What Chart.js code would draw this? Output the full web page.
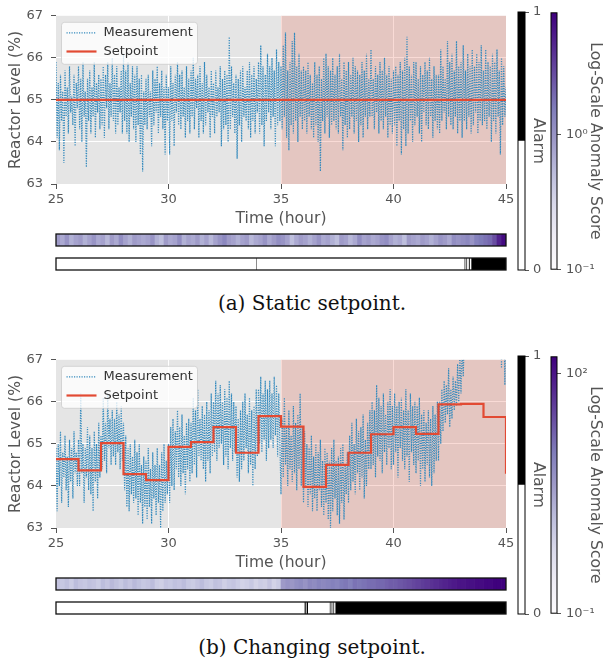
<!DOCTYPE html>
<html><head><meta charset="utf-8">
<script src="https://cdn.jsdelivr.net/npm/chart.js@4.4.0/dist/chart.umd.min.js"></script>
<style>
html,body{margin:0;padding:0;background:#fff;width:603px;height:662px;overflow:hidden;position:relative;}
canvas{position:absolute;}
.caption{position:absolute;left:0;width:624px;text-align:center;font-family:"DejaVu Serif",serif;font-size:20px;line-height:22px;color:#111;}
</style></head><body>
<script>
// ---------------- DATA ----------------
const timeStart = 25, timeEnd = 45, faultStart = 35, sampleStepHours = 0.05;
const xTicks = [25, 30, 35, 40, 45];
const yTicks = [63, 64, 65, 66, 67];

// (a) static setpoint: measurement every 0.05 h from 25 to 45 (one row = half an hour)
const measurementStatic = [
65.9,64.1,65.4,63.8,65.6,64.5,65.2,63.5,65.7,64.6,
65.3,64.2,65.8,64.7,65.1,64.4,65.6,63.9,65.4,64.8,
65.8,64.3,65.5,64.0,65.9,64.6,65.2,63.4,65.5,64.5,
65.7,64.2,65.3,64.6,65.9,64.1,65.4,64.7,65.6,64.3,
65.5,64.4,65.8,64.1,65.6,64.8,65.9,64.3,65.4,64.6,
66.0,64.5,65.6,64.2,65.8,64.4,65.3,64.7,65.7,64.2,
66.1,64.5,65.7,64.2,65.9,64.0,65.4,64.6,65.8,64.3,
65.6,64.0,65.8,64.4,65.5,63.7,65.6,63.3,65.2,64.4,
65.5,64.3,65.6,64.6,65.2,63.9,65.7,64.4,65.5,64.7,
65.8,64.2,65.4,64.6,65.7,64.3,65.3,63.7,65.6,64.5,
65.3,63.7,65.8,64.5,65.4,63.9,65.6,64.7,65.9,64.4,
65.6,64.3,65.7,64.6,65.3,64.1,65.8,64.5,65.5,64.2,
65.7,64.6,66.0,64.3,65.5,64.8,65.6,64.1,65.8,64.5,
65.4,64.2,65.9,64.4,65.6,64.7,65.3,64.1,65.7,64.6,
65.4,64.2,65.7,64.6,65.3,64.7,65.8,63.9,65.5,64.3,
65.7,64.4,65.6,64.0,66.5,64.3,65.8,64.6,65.4,64.2,
65.6,63.6,65.5,64.4,65.7,64.0,65.8,64.6,65.3,64.5,
65.7,64.3,65.9,64.1,65.6,64.5,65.8,64.2,65.5,64.7,
65.9,64.2,66.3,64.4,65.8,63.9,65.6,64.5,66.1,64.7,
65.8,64.3,66.0,64.6,65.7,63.9,66.2,64.4,65.9,64.5,
65.8,64.3,66.3,64.6,66.6,64.1,65.7,63.8,65.9,64.4,
66.4,64.2,66.6,64.5,65.8,64.0,66.1,64.6,65.7,64.3,
65.8,64.5,65.7,64.2,65.9,64.6,65.6,64.3,65.4,64.1,
65.9,64.4,65.6,64.0,65.8,63.3,65.5,64.5,66.0,64.2,
66.1,64.6,65.8,64.1,65.7,64.4,66.0,64.5,65.6,64.3,
65.8,64.2,66.1,64.6,65.5,63.8,65.9,64.4,65.7,64.1,
65.9,64.3,65.6,64.6,66.0,64.2,65.8,64.5,65.7,64.0,
65.6,64.4,65.9,64.1,65.7,64.6,66.1,64.3,65.5,64.6,
66.2,64.6,65.5,64.3,65.8,64.7,65.6,64.2,65.9,64.5,
65.7,64.3,66.0,64.6,65.6,64.1,65.8,64.4,65.5,64.2,
65.7,64.4,65.8,63.9,65.6,64.5,65.9,63.7,65.7,64.3,
66.0,63.9,66.5,64.2,65.8,64.5,65.6,64.0,65.9,64.4,
65.9,64.6,65.5,64.2,65.8,64.0,65.6,64.7,65.9,64.4,
65.7,64.3,66.0,64.6,65.5,64.1,65.8,64.5,65.6,64.3,
65.6,64.2,66.2,64.5,65.8,64.7,65.5,64.3,66.4,64.6,
65.9,64.4,66.1,64.3,65.7,64.6,66.4,64.2,65.8,64.5,
65.9,64.1,66.3,64.5,65.7,64.3,66.1,64.6,65.8,64.2,
66.2,64.4,65.8,64.7,66.1,64.2,65.9,64.5,66.3,64.4,
65.7,64.5,66.2,64.3,65.9,64.6,65.8,64.0,66.1,64.5,
65.9,64.2,66.2,64.6,65.7,63.7,66.0,64.4,65.8,64.6,
65.3];
const setpointStaticTimes = [25, 45];
const setpointStaticValues = [65.0, 65.0];

// (b) changing setpoint
const measurementChanging = [
64.9,63.4,65.0,64.0,65.3,63.6,64.8,64.2,65.2,63.9,
64.7,63.5,65.1,64.1,64.9,63.7,65.3,64.3,64.8,64.0,
65.1,64.0,66.2,64.3,65.0,63.6,64.9,64.2,65.4,63.9,
65.2,63.8,64.9,63.4,65.3,64.1,65.0,63.7,65.5,64.2,
65.2,64.4,66.1,64.6,65.5,64.3,66.2,64.9,65.6,64.5,
65.8,64.7,65.6,64.5,66.0,64.8,65.7,64.4,65.9,64.6,
65.5,63.9,65.2,63.5,64.9,63.4,65.0,63.8,64.7,63.6,
65.1,63.7,64.8,63.3,65.0,63.6,64.5,63.1,64.7,63.5,
64.6,63.2,64.9,63.5,64.4,63.1,64.8,63.7,64.5,63.3,
64.9,63.6,64.5,63.0,64.8,63.4,65.0,63.6,64.6,63.8,
65.0,63.6,65.4,64.0,65.6,63.9,65.3,64.4,65.8,64.2,
65.4,64.0,65.7,64.3,65.2,63.8,65.5,64.4,65.6,64.1,
65.5,64.3,66.1,64.5,65.8,64.2,66.3,64.7,65.6,64.6,
65.9,64.4,65.7,64.1,66.0,64.6,65.8,64.3,66.2,64.7,
66.0,64.8,66.5,64.6,66.2,64.9,66.4,65.0,66.0,64.5,
66.3,64.7,66.1,64.4,66.5,64.9,66.2,64.6,66.0,64.8,
65.9,64.2,65.6,64.1,65.8,64.4,66.0,64.6,66.2,64.9,
65.7,64.3,66.1,64.5,65.8,64.0,65.9,64.4,66.3,64.7,
66.3,65.0,66.6,64.8,66.2,65.1,66.5,64.6,66.3,64.9,
66.5,65.1,66.2,64.9,66.6,65.2,66.4,64.7,66.2,65.0,
63.8,65.6,64.2,66.1,64.5,65.4,64.0,65.8,64.4,65.2,
64.1,65.9,64.3,65.5,63.9,65.7,64.4,66.2,64.0,65.4,
63.6,65.3,64.0,65.0,63.5,64.9,63.8,65.2,63.4,64.7,
63.7,65.0,63.4,64.8,63.9,65.1,63.5,64.6,63.3,64.9,
63.6,64.8,63.2,64.6,63.0,64.9,63.4,65.1,63.7,64.6,
63.3,64.7,63.1,64.9,63.6,65.0,63.2,64.5,63.8,64.8,
63.6,65.2,63.9,65.5,64.1,65.0,63.8,65.6,64.3,65.3,
63.9,65.4,64.2,65.7,63.7,65.1,64.0,65.5,64.4,65.8,
64.4,66.0,64.5,65.8,64.2,66.4,64.7,66.1,64.6,65.9,
64.3,66.2,64.8,65.7,64.5,66.0,64.9,66.3,64.4,65.9,
64.5,66.2,64.8,65.9,64.2,66.0,64.9,66.1,64.6,65.8,
64.4,66.3,64.7,65.8,64.1,66.2,64.8,65.9,64.5,66.0,
64.3,65.9,64.6,66.1,64.0,65.7,64.4,65.8,64.1,65.5,
64.5,65.8,64.2,65.6,64.0,65.9,64.3,65.7,64.6,66.0,
64.6,66.0,65.0,66.3,65.3,66.5,65.5,66.4,65.7,66.8,
65.4,66.3,65.6,66.6,65.8,66.5,65.9,66.9,66.0,67.1,
66.2,67.3,66.6,67.6,67.2,68.0,67.5,68.3,67.8,68.6,
68.0,68.7,68.2,68.9,68.4,69.0,68.6,69.2,68.8,69.1,
68.7,69.3,68.9,69.4,69.0,69.2,68.8,69.5,69.1,69.3,
69.0,69.4,68.9,69.2,69.1,69.5,66.8,69.3,68.9,66.4,
69.0];
const setpointChangingTimes = [25,26,27,28,29,30,31,32,33,34,35,36,37,38,39,40,41,42,43,44,45];
const setpointChangingValues = [64.64,64.37,65.02,64.28,64.14,64.93,65.04,65.40,64.79,65.66,
                                65.41,63.98,64.50,64.79,65.23,65.40,65.24,65.94,65.95,65.64,64.29];

// anomaly scores (log10), one per 0.2 h bin
const anomalyBinHours = 0.2;
const anomalyLog10Static = [
-0.05,-0.15,0.0,-0.2,-0.1,-0.05,-0.2,-0.1,0.0,-0.15,
-0.1,-0.25,-0.05,-0.15,0.05,-0.1,-0.2,-0.05,-0.1,-0.15,
-0.1,0.0,-0.2,-0.3,-0.05,-0.15,-0.1,0.05,-0.2,-0.1,
-0.15,-0.05,-0.2,-0.1,-0.25,-0.1,0.0,0.1,-0.05,-0.1,
-0.2,-0.1,-0.05,-0.25,-0.15,-0.1,0.0,-0.15,-0.05,0.05,
0.0,-0.1,-0.3,-0.15,-0.05,-0.1,-0.2,-0.1,0.0,-0.15,
-0.1,-0.2,-0.3,-0.05,-0.1,-0.25,-0.15,0.05,-0.1,-0.05,
-0.15,-0.1,0.0,0.05,-0.1,-0.2,-0.15,-0.3,-0.05,-0.1,
-0.15,-0.05,-0.1,-0.2,-0.1,0.0,-0.05,-0.15,0.05,0.0,
0.05,0.1,0.0,0.15,0.2,0.25,0.3,0.45,0.7,0.85];
const anomalyLog10Changing = [
0.1,0.05,0.15,0.0,0.2,0.1,0.05,0.15,0.1,0.0,
0.2,0.1,0.25,0.15,0.05,0.2,0.1,0.25,0.15,0.05,
0.1,0.2,0.0,-0.05,0.1,0.05,0.15,0.1,0.2,0.05,
0.0,0.1,0.2,0.05,0.0,0.15,0.1,-0.05,0.05,0.1,
0.0,-0.1,-0.05,0.05,-0.1,0.0,-0.05,0.1,-0.1,0.0,
0.6,0.7,0.65,0.75,0.8,0.7,0.85,0.8,0.9,0.85,
0.9,0.95,0.9,1.0,1.05,0.95,1.1,1.05,1.1,1.15,
1.15,1.2,1.2,1.25,1.3,1.3,1.35,1.4,1.45,1.5,
1.55,1.6,1.65,1.7,1.75,1.8,1.85,1.9,1.95,2.0,
2.0,2.05,2.05,2.1,2.1,2.15,2.15,2.2,2.2,2.2];
const anomalyRangeStatic = [0.1, 8.1];
const anomalyRangeChanging = [0.1, 162];
const anomalyTicksStatic = [0.1, 1];
const anomalyTicksChanging = [0.1, 100];

// alarm intervals (hours)
const alarmIntervalsStatic = [[33.90,33.92],[43.16,43.19],[43.24,43.27],[43.35,43.39],[43.46,45]];
const alarmIntervalsChanging = [[36.05,36.1],[36.14,36.2],[37.17,37.2],[37.25,37.28],[37.33,37.36],[37.42,45]];
const alarmLevels = [[0, 0.5], [0.5, 1]];
const alarmTicks = [0, 1];

const captions = ['(a) Static setpoint.', '(b) Changing setpoint.'];

// ---------------- HELPERS ----------------
const PURPLES = ['#fcfbfd','#efedf5','#dadaeb','#bcbddc','#9e9ac8','#807dba','#6a51a3','#54278f','#3f007d'];
function hexToRgb(h){return [parseInt(h.slice(1,3),16),parseInt(h.slice(3,5),16),parseInt(h.slice(5,7),16)];}
function purples(t){
  t = Math.max(0, Math.min(1, t));
  const n = PURPLES.length - 1, f = t * n, i = Math.min(n - 1, Math.floor(f)), u = f - i;
  const a = hexToRgb(PURPLES[i]), b = hexToRgb(PURPLES[i + 1]);
  return 'rgb(' + a.map((v, k) => Math.round(v + (b[k] - v) * u)).join(',') + ')';
}
const SUP = {'-':'⁻','0':'⁰','1':'¹','2':'²','3':'³'};
function powLabel(v){ const e = Math.round(Math.log10(v)); return '10' + String(e).split('').map(c => SUP[c]).join(''); }

function makeCanvas(left, top, w, h){
  const c = document.createElement('canvas');
  c.width = w; c.height = h;
  c.style.left = left + 'px'; c.style.top = top + 'px';
  c.style.width = w + 'px'; c.style.height = h + 'px';
  document.body.appendChild(c);
  return c;
}
const FONT = 'DejaVu Sans';
const GRAY = '#555555';
Chart.defaults.font.family = FONT;
Chart.defaults.color = GRAY;

const framePlugin = {id:'frame', afterDatasetsDraw(chart, args, opts){
  const a = chart.chartArea, c = chart.ctx;
  c.save(); c.strokeStyle = opts.color || '#000'; c.lineWidth = opts.width || 1;
  c.strokeRect(a.left, a.top, a.right - a.left, a.bottom - a.top); c.restore();
}};
const regionPlugin = {id:'regions',
  beforeDraw(chart){
    const {ctx, chartArea:a} = chart;
    ctx.save(); ctx.fillStyle = '#E5E5E5'; ctx.fillRect(a.left, a.top, a.width, a.height); ctx.restore();
  },
  beforeDatasetsDraw(chart){
    const {ctx, chartArea:a, scales:{x}} = chart;
    const x0 = x.getPixelForValue(faultStart), x1 = x.getPixelForValue(timeEnd);
    ctx.save(); ctx.fillStyle = 'rgba(226,74,51,0.2)'; ctx.fillRect(x0, a.top, x1 - x0, a.height); ctx.restore();
  }};
const boxLegend = {id:'boxLegend', afterDraw(chart){
  const {ctx, chartArea:a} = chart;
  const x = a.left + 5.5, y = a.top + 6.5, w = 136, h = 42, r = 3;
  ctx.save();
  ctx.beginPath();
  ctx.moveTo(x + r, y); ctx.lineTo(x + w - r, y); ctx.arcTo(x + w, y, x + w, y + r, r);
  ctx.lineTo(x + w, y + h - r); ctx.arcTo(x + w, y + h, x + w - r, y + h, r);
  ctx.lineTo(x + r, y + h); ctx.arcTo(x, y + h, x, y + h - r, r);
  ctx.lineTo(x, y + r); ctx.arcTo(x, y, x + r, y, r); ctx.closePath();
  ctx.fillStyle = 'rgba(255,255,255,0.8)'; ctx.fill();
  ctx.strokeStyle = 'rgba(204,204,204,0.8)'; ctx.lineWidth = 1; ctx.stroke();
  ctx.font = '13px "' + FONT + '"'; ctx.textBaseline = 'middle'; ctx.textAlign = 'left';
  chart.data.datasets.forEach((ds, i) => {
    const yy = y + 10.5 + i * 18.7;
    ctx.strokeStyle = ds.borderColor; ctx.lineWidth = ds.borderWidth;
    ctx.setLineDash(ds.borderDash || []);
    ctx.beginPath(); ctx.moveTo(x + 5, yy); ctx.lineTo(x + 35, yy); ctx.stroke();
    ctx.setLineDash([]);
    ctx.fillStyle = '#333'; ctx.fillText(ds.label, x + 42, yy);
  });
  ctx.restore();
}};

const base = {animation:false, responsive:false, devicePixelRatio:1,
  plugins:{legend:{display:false}, tooltip:{enabled:false}}};

function edgeless(ctx){ const v = ctx.tick && ctx.tick.value; return (v === 25 || v === 45 || v === 63 || v === 67) ? 'rgba(0,0,0,0)' : '#ffffff'; }

function mainChart(top, meas, spT, spV){
  const cv = makeCanvas(0, top, 520, 232);
  new Chart(cv, {
    type:'line',
    data:{datasets:[
      {label:'Measurement', data: meas.map((v, i) => ({x: timeStart + i * sampleStepHours, y: v})),
       borderColor:'#348ABD', borderWidth:1.2, borderDash:[1.2,1.3], pointRadius:0, tension:0, order:2},
      {label:'Setpoint', data: spT.map((t, i) => ({x: t, y: spV[i]})),
       borderColor:'#E24A33', borderWidth:2.2, stepped:true, pointRadius:0, order:1}
    ]},
    options:Object.assign({}, base, {
      layout:{padding:{top:12, right:14, left:0, bottom:0}},
      scales:{
        x:{type:'linear', min:timeStart, max:timeEnd,
           afterBuildTicks: s => { s.ticks = xTicks.map(v => ({value:v})); },
           afterFit: s => { s.height = 48; },
           grid:{color:edgeless, lineWidth:1, tickColor:GRAY, tickLength:5},
           border:{display:false},
           ticks:{color:GRAY, font:{size:13}, padding:3, maxRotation:0},
           title:{display:true, text:'Time (hour)', color:GRAY, font:{size:15.6}, padding:{top:4, bottom:4}}},
        y:{min:63, max:67,
           afterBuildTicks: s => { s.ticks = yTicks.map(v => ({value:v})); },
           afterFit: s => { s.width = 56; },
           grid:{color:edgeless, lineWidth:1, tickColor:GRAY, tickLength:5},
           border:{display:false},
           ticks:{color:GRAY, font:{size:13}, padding:8},
           title:{display:true, text:'Reactor Level (%)', color:GRAY, font:{size:15.6}, padding:{top:7, bottom:0}}}
      }
    }),
    plugins:[regionPlugin, boxLegend]
  });
}

function anomalyStrip(top, logs, range){
  const cv = makeCanvas(50, top, 462, 20);
  const lo = Math.log10(range[0]), hi = Math.log10(range[1]);
  new Chart(cv, {
    type:'bar',
    data:{labels: logs.map((_, i) => (timeStart + (i + 0.5) * anomalyBinHours).toFixed(1)),
      datasets:[{data: logs.map(() => 1), backgroundColor: logs.map(l => purples((l - lo) / (hi - lo))),
        barPercentage:1, categoryPercentage:1, borderWidth:0}]},
    options:Object.assign({}, base, {
      layout:{padding:{left:6, right:6, top:4, bottom:4}},
      scales:{x:{display:false}, y:{display:false, min:0, max:1}},
      plugins:Object.assign({}, base.plugins, {frame:{color:'#111', width:1.3}})
    }),
    plugins:[framePlugin]
  });
}

function alarmStrip(top, intervals){
  const cv = makeCanvas(50, top, 462, 20);
  new Chart(cv, {
    type:'bar',
    data:{labels:['Alarm'], datasets: intervals.map(iv => ({data:[iv], backgroundColor:'#000', borderWidth:0,
      inflateAmount:0, barPercentage:1, categoryPercentage:1, grouped:false}))},
    options:Object.assign({}, base, {
      indexAxis:'y',
      layout:{padding:{left:6, right:6, top:4, bottom:4}},
      scales:{x:{type:'linear', min:timeStart, max:timeEnd, display:false}, y:{display:false}},
      plugins:Object.assign({}, base.plugins, {frame:{color:'#111', width:1.3}})
    }),
    plugins:[framePlugin]
  });
}

function alarmColorbar(top){
  const cv = makeCanvas(500, top, 52, 282);
  new Chart(cv, {
    type:'bar',
    data:{labels:[''], datasets: alarmLevels.map((lv, i) => ({data:[lv], backgroundColor: i === 0 ? '#ffffff' : '#000000',
      borderWidth:0, barPercentage:1, categoryPercentage:1, grouped:false}))},
    options:Object.assign({}, base, {
      layout:{padding:{left:18, right:0, top:12, bottom:12}},
      scales:{
        x:{display:false},
        y:{position:'right', min:0, max:1,
           afterBuildTicks: s => { s.ticks = alarmTicks.map(v => ({value:v})); },
           afterFit: s => { s.width = 27; },
           grid:{drawOnChartArea:false, tickColor:GRAY, tickLength:4},
           border:{display:false},
           ticks:{color:GRAY, font:{size:13}, padding:4},
           title:{display:true, text:'Alarm', color:GRAY, font:{size:15.6}, padding:{top:4.6, bottom:0}}}
      },
      plugins:Object.assign({}, base.plugins, {frame:{color:'#000', width:1}})
    }),
    plugins:[framePlugin]
  });
}

function anomalyColorbar(top, range, ticks){
  const cv = makeCanvas(540, top, 63, 282);
  new Chart(cv, {
    type:'bar',
    data:{labels:[''], datasets:[{data:[range],
      backgroundColor: ctx => {
        const a = ctx.chart.chartArea; if (!a) return '#9e9ac8';
        const g = ctx.chart.ctx.createLinearGradient(0, a.bottom, 0, a.top);
        PURPLES.forEach((c, i) => g.addColorStop(i / (PURPLES.length - 1), c));
        return g;
      }, borderWidth:0, barPercentage:1, categoryPercentage:1}]},
    options:Object.assign({}, base, {
      layout:{padding:{left:11, right:0, top:12, bottom:12}},
      scales:{
        x:{display:false},
        y:{type:'logarithmic', position:'right', min:range[0], max:range[1],
           afterBuildTicks: s => { s.ticks = ticks.map(v => ({value:v})); },
           afterFit: s => { s.width = 46; },
           grid:{drawOnChartArea:false, tickColor:GRAY, tickLength:4},
           border:{display:false},
           ticks:{color:GRAY, font:{size:13}, padding:5, callback: v => powLabel(v)},
           title:{display:true, text:'Log-Scale Anomaly Score', color:GRAY, font:{size:15.6}, padding:{top:-1, bottom:0}}}
      },
      plugins:Object.assign({}, base.plugins, {frame:{color:'#000', width:1}})
    }),
    plugins:[framePlugin]
  });
}

function caption(top, text){
  const d = document.createElement('div');
  d.className = 'caption'; d.style.top = top + 'px'; d.textContent = text;
  document.body.appendChild(d);
}

// ---------------- BUILD ----------------
const panels = [
  {off:0, meas:measurementStatic, spT:setpointStaticTimes, spV:setpointStaticValues, logs:anomalyLog10Static,
   range:anomalyRangeStatic, ticks:anomalyTicksStatic, alarms:alarmIntervalsStatic},
  {off:344, meas:measurementChanging, spT:setpointChangingTimes, spV:setpointChangingValues, logs:anomalyLog10Changing,
   range:anomalyRangeChanging, ticks:anomalyTicksChanging, alarms:alarmIntervalsChanging}
];
panels.forEach((p, i) => {
  alarmColorbar(p.off);
  anomalyColorbar(p.off, p.range, p.ticks);
  mainChart(p.off, p.meas, p.spT, p.spV);
  anomalyStrip(p.off + 230, p.logs, p.range);
  alarmStrip(p.off + 254, p.alarms);
  caption(p.off + 292, captions[i]);
});
</script>
</body></html>
